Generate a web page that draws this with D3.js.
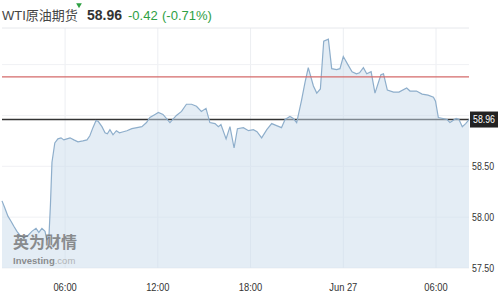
<!DOCTYPE html>
<html>
<head>
<meta charset="utf-8">
<script src="https://cdn.jsdelivr.net/npm/d3@7"></script>
<style>
  html, body { margin: 0; padding: 0; background: #fff; }
  svg { display: block; }
</style>
</head>
<body>
<svg id="chart"></svg>
<script>
// price series, WTI crude futures (Beijing time)
const times = [
  "06-26 01:55", "06-26 02:06", "06-26 02:18", "06-26 02:30", "06-26 02:41", "06-26 02:53",
  "06-26 03:05", "06-26 03:20", "06-26 03:36", "06-26 03:51", "06-26 04:07", "06-26 04:18",
  "06-26 04:30", "06-26 04:42", "06-26 04:49", "06-26 04:57", "06-26 05:03", "06-26 05:09",
  "06-26 05:20", "06-26 05:32", "06-26 05:44", "06-26 05:55", "06-26 06:07", "06-26 06:19",
  "06-26 06:34", "06-26 06:50", "06-26 07:09", "06-26 07:25", "06-26 07:36", "06-26 07:48",
  "06-26 08:00", "06-26 08:09", "06-26 08:23", "06-26 08:35", "06-26 08:44", "06-26 08:54",
  "06-26 09:06", "06-26 09:19", "06-26 09:31", "06-26 09:46", "06-26 10:00", "06-26 10:19",
  "06-26 10:39", "06-26 10:58", "06-26 11:16", "06-26 11:29", "06-26 11:49", "06-26 12:02",
  "06-26 12:20", "06-26 12:47", "06-26 13:12", "06-26 13:32", "06-26 13:51", "06-26 14:11",
  "06-26 14:30", "06-26 14:49", "06-26 15:07", "06-26 15:22", "06-26 15:42", "06-26 15:55",
  "06-26 16:05", "06-26 16:25", "06-26 16:40", "06-26 16:56", "06-26 17:09", "06-26 17:32",
  "06-26 17:52", "06-26 18:11", "06-26 18:25", "06-26 18:43", "06-26 19:03", "06-26 19:22",
  "06-26 19:41", "06-26 20:00", "06-26 20:14", "06-26 20:33", "06-26 20:46", "06-26 20:59",
  "06-26 21:18", "06-26 21:31", "06-26 21:44", "06-26 22:04", "06-26 22:17", "06-26 22:31",
  "06-26 22:44", "06-26 23:02", "06-26 23:15", "06-26 23:34", "06-26 23:47", "06-27 00:00",
  "06-27 00:20", "06-27 00:34", "06-27 00:51", "06-27 01:03", "06-27 01:18", "06-27 01:31",
  "06-27 01:48", "06-27 02:03", "06-27 02:26", "06-27 02:36", "06-27 02:51", "06-27 03:15",
  "06-27 03:36", "06-27 04:06", "06-27 04:19", "06-27 04:44", "06-27 05:06", "06-27 05:29",
  "06-27 05:50", "06-27 05:58", "06-27 06:09", "06-27 06:27", "06-27 06:43", "06-27 06:54",
  "06-27 07:18", "06-27 07:29", "06-27 07:42", "06-27 07:55", "06-27 08:08"
];
const prices = [
  58.16, 58.09, 58.01, 57.96, 57.91, 57.86,
  57.82, 57.80, 57.82, 57.86, 57.89, 57.85,
  57.89, 57.86, 57.78, 57.80, 58.12, 58.54,
  58.73, 58.77, 58.78, 58.76, 58.77, 58.78,
  58.76, 58.74, 58.75, 58.76, 58.80, 58.88,
  58.95, 58.94, 58.89, 58.83, 58.82, 58.86,
  58.81, 58.85, 58.83, 58.84, 58.85, 58.87,
  58.88, 58.89, 58.93, 58.98, 59.01, 59.03,
  59.01, 58.93, 59.00, 59.04, 59.11, 59.11,
  59.09, 59.04, 59.07, 58.93, 58.92, 58.89,
  58.91, 58.77, 58.89, 58.68, 58.87, 58.88,
  58.85, 58.86, 58.84, 58.78, 58.86, 58.92,
  58.90, 58.88, 58.96, 58.99, 58.97, 58.93,
  59.15, 59.32, 59.47, 59.29, 59.22, 59.26,
  59.73, 59.75, 59.46, 59.45, 59.46, 59.58,
  59.49, 59.43, 59.41, 59.42, 59.47, 59.41,
  59.43, 59.22, 59.40, 59.41, 59.25, 59.23,
  59.23, 59.27, 59.24, 59.24, 59.21, 59.20,
  59.18, 59.14, 58.98, 58.97, 58.96, 58.93,
  58.97, 58.96, 58.89, 58.92, 58.96
];

const lastPrice = 58.96;
const prevClose = 59.38;
const change = "-0.42";
const changePct = "(-0.71%)";
const title = "WTI原油期货";

const yTicks = [57.5, 58.0, 58.5];
const yGrid = [57.5, 58.0, 58.5, 59.0, 59.5];
const xTicks = ["06-26 06:00", "06-26 12:00", "06-26 18:00", "06-27 00:00", "06-27 06:00"];

const W = 500, H = 300;
const margin = { top: 28, right: 31, bottom: 32, left: 2 };

const parse = d3.timeParse("%m-%d %H:%M");
const data = times.map((t, i) => ({ t: parse(t), v: prices[i] }));

const svg = d3.select('#chart').attr('width', W).attr('height', H);

const x = d3.scaleTime()
  .domain(d3.extent(data, d => d.t))
  .range([margin.left, W - margin.right]);

const y = d3.scaleLinear()
  .domain([57.5, 59.86])
  .range([H - margin.bottom, margin.top]);

const fontAxis = '"Liberation Sans", Arial, sans-serif';

// squeeze axis text a little, the original uses a narrow face
function narrow(sel, k) {
  sel.each(function () {
    const len = this.getComputedTextLength();
    d3.select(this).attr('textLength', len * k).attr('lengthAdjust', 'spacingAndGlyphs');
  });
}

// grid
svg.append('g')
  .selectAll('line')
  .data(xTicks.map(parse))
  .enter().append('line')
  .attr('x1', d => x(d)).attr('x2', d => x(d))
  .attr('y1', margin.top).attr('y2', H - margin.bottom)
  .attr('stroke', '#eceef2');

svg.append('g')
  .selectAll('line')
  .data(yGrid)
  .enter().append('line')
  .attr('x1', margin.left).attr('x2', W - margin.right)
  .attr('y1', d => y(d)).attr('y2', d => y(d))
  .attr('stroke', '#f0f1f4');

svg.append('line')
  .attr('x1', margin.left).attr('x2', W - margin.right)
  .attr('y1', margin.top).attr('y2', margin.top)
  .attr('stroke', '#e6e8ec');

// last price line (drawn below the fill)
svg.append('line')
  .attr('x1', margin.left).attr('x2', W - margin.right)
  .attr('y1', y(lastPrice)).attr('y2', y(lastPrice))
  .attr('stroke', '#333').attr('stroke-width', 1.5);

// area + line
const area = d3.area()
  .x(d => x(d.t))
  .y0(y(57.5))
  .y1(d => y(d.v));

svg.append('path')
  .datum(data)
  .attr('d', area)
  .attr('fill', '#c9dbeb')
  .attr('fill-opacity', 0.5);

svg.append('path')
  .datum(data)
  .attr('d', d3.line().x(d => x(d.t)).y(d => y(d.v)))
  .attr('fill', 'none')
  .attr('stroke', '#8eaecb')
  .attr('stroke-width', 1.2);

// previous close
svg.append('line')
  .attr('x1', margin.left).attr('x2', W - margin.right)
  .attr('y1', y(prevClose)).attr('y2', y(prevClose))
  .attr('stroke', '#d46a6a').attr('stroke-width', 1.3);

// x axis labels
const fmt = d => d.getHours() === 0 ? d3.timeFormat("%b %d")(d) : d3.timeFormat("%H:%M")(d);
svg.append('g')
  .selectAll('text')
  .data(xTicks.map(parse))
  .enter().append('text')
  .attr('x', d => x(d))
  .attr('y', H - 9)
  .attr('text-anchor', 'middle')
  .style('font-family', fontAxis)
  .style('font-size', '11px')
  .style('fill', '#333')
  .text(fmt)
  .call(narrow, 0.85);

// y axis labels
svg.append('g')
  .selectAll('text')
  .data(yTicks)
  .enter().append('text')
  .attr('x', W - margin.right + 3)
  .attr('y', d => y(d))
  .attr('dy', '0.35em')
  .style('font-family', fontAxis)
  .style('font-size', '11px')
  .style('fill', '#333')
  .text(d => d3.format(".2f")(d))
  .call(narrow, 0.8);

// current price tag
const tag = svg.append('g').attr('transform', `translate(${W - margin.right + 1},${y(lastPrice)})`);
tag.append('rect')
  .attr('x', 0).attr('y', -8)
  .attr('width', 28).attr('height', 16)
  .attr('fill', '#222');
tag.append('text')
  .attr('x', 14).attr('y', 0).attr('dy', '0.35em')
  .attr('text-anchor', 'middle')
  .style('font-family', fontAxis)
  .style('font-size', '11px')
  .style('fill', '#fff')
  .text(d3.format(".2f")(lastPrice))
  .call(narrow, 0.8);

// watermark
const wm = svg.append('g').attr('opacity', 0.75);
wm.append('text')
  .attr('x', 13).attr('y', 248)
  .style('font-family', '"Noto Sans CJK SC", sans-serif')
  .style('font-weight', 'bold')
  .style('font-size', '16px')
  .style('fill', '#6b6b6b')
  .text('英为财情');
const wm2 = wm.append('text')
  .attr('x', 13).attr('y', 264)
  .style('font-family', fontAxis)
  .style('font-size', '9.5px');
wm2.append('tspan').style('fill', '#6b6b6b').style('font-weight', 'bold').text('Investing');
wm2.append('tspan').style('fill', '#a0a0a0').text('.com');

// header
const head = svg.append('text')
  .attr('x', 2).attr('y', 20)
  .style('font-family', '"Liberation Sans", "Noto Sans CJK SC", sans-serif')
  .style('font-size', '13px');
head.append('tspan').style('fill', '#444').text(title);
head.append('tspan').attr('x', 87).style('fill', '#333').style('font-weight', 'bold')
  .style('font-size', '14px').text(d3.format(".2f")(lastPrice));
head.append('tspan').attr('x', 128).style('fill', '#2ea043').text(change);
head.append('tspan').attr('x', 162).style('fill', '#2ea043').text(changePct);

svg.append('path')
  .attr('d', d3.symbol().type(d3.symbolTriangle).size(14)())
  .attr('transform', 'translate(79,5) rotate(180)')
  .attr('fill', '#2ea043');
</script>
</body>
</html>
